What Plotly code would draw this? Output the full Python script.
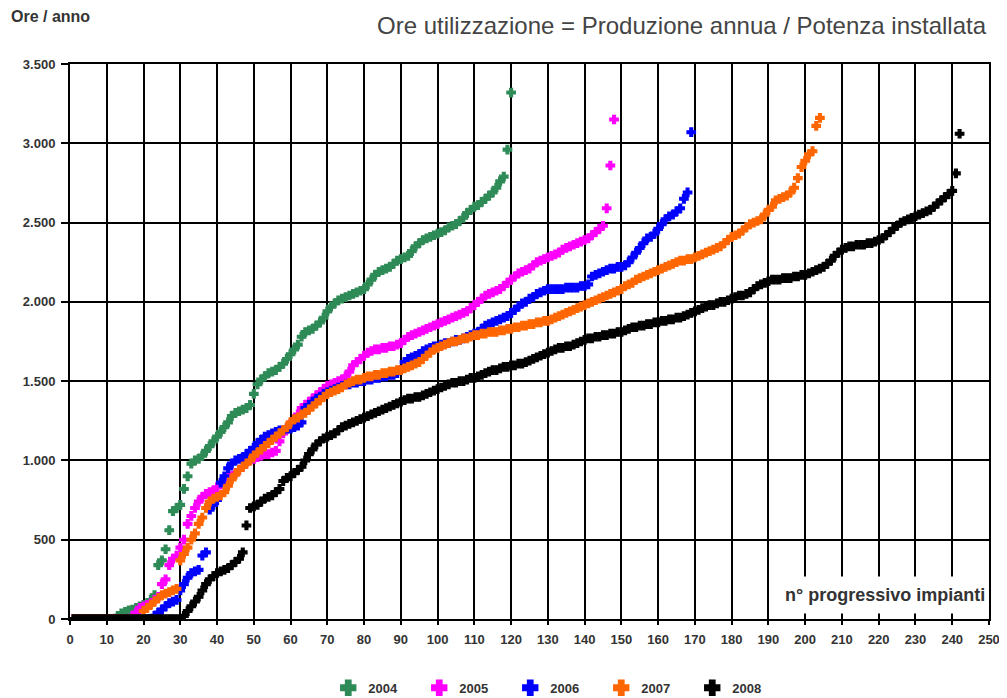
import plotly.graph_objects as go

# Ore di utilizzazione per impianto (ordinate in modo crescente), per anno
ore_2004 = [
    0, 0, 0, 0, 0, 0, 0, 0, 0, 0,
    0, 0, 20, 35, 45, 55, 60, 70, 80, 90,
    100, 120, 150, 340, 370, 440, 560, 680, 700, 720,
    820, 900, 980, 1000, 1010, 1030, 1060, 1090, 1120, 1150,
    1180, 1210, 1240, 1280, 1300, 1310, 1320, 1330, 1350, 1420,
    1480, 1510, 1530, 1550, 1560, 1570, 1590, 1610, 1640, 1670,
    1700, 1730, 1780, 1810, 1820, 1830, 1850, 1870, 1900, 1940,
    1970, 1990, 2010, 2020, 2030, 2040, 2050, 2060, 2070, 2080,
    2110, 2140, 2170, 2190, 2200, 2210, 2220, 2240, 2260, 2270,
    2280, 2290, 2320, 2350, 2370, 2390, 2400, 2410, 2420, 2430,
    2440, 2450, 2470, 2480, 2490, 2510, 2530, 2560, 2580, 2600,
    2610, 2630, 2650, 2670, 2690, 2720, 2760, 2790, 2960, 3320,
]

ore_2005 = [
    0, 0, 0, 0, 0, 0, 0, 0, 0, 0,
    0, 0, 0, 0, 0, 0, 20, 40, 70, 80,
    90, 100, 120, 140, 220, 250, 340, 380, 400, 450,
    500, 600, 650, 700, 740, 770, 790, 800, 810, 830,
    850, 870, 890, 900, 920, 940, 960, 990, 1000, 1010,
    1020, 1030, 1040, 1040, 1050, 1060, 1120, 1170, 1200, 1230,
    1260, 1290, 1330, 1350, 1370, 1390, 1410, 1430, 1450, 1470,
    1480, 1490, 1500, 1510, 1530, 1560, 1600, 1620, 1640, 1660,
    1680, 1690, 1700, 1700, 1710, 1710, 1720, 1720, 1730, 1740,
    1760, 1780, 1790, 1800, 1810, 1820, 1830, 1840, 1850, 1860,
    1870, 1880, 1890, 1900, 1910, 1920, 1930, 1940, 1960, 1980,
    2000, 2020, 2040, 2050, 2060, 2070, 2080, 2100, 2120, 2140,
    2160, 2180, 2190, 2200, 2210, 2230, 2250, 2260, 2270, 2280,
    2290, 2300, 2310, 2330, 2340, 2350, 2360, 2370, 2380, 2390,
    2400, 2420, 2440, 2460, 2480, 2590, 2860, 3150,
]

ore_2006 = [
    0, 0, 0, 0, 0, 0, 0, 0, 0, 0,
    0, 0, 0, 0, 0, 0, 0, 0, 0, 0,
    0, 0, 20, 40, 60, 80, 100, 110, 120, 180,
    220, 260, 290, 300, 310, 400, 420, 690, 720, 750,
    860, 900, 950, 980, 1000, 1010, 1020, 1040, 1060, 1080,
    1110, 1130, 1150, 1160, 1170, 1180, 1190, 1190, 1200, 1200,
    1210, 1220, 1240, 1330, 1350, 1370, 1390, 1400, 1420, 1430,
    1440, 1450, 1460, 1470, 1480, 1480, 1490, 1490, 1500, 1500,
    1510, 1510, 1520, 1520, 1530, 1530, 1540, 1540, 1550, 1570,
    1620, 1640, 1650, 1660, 1670, 1690, 1700, 1710, 1720, 1720,
    1730, 1740, 1740, 1750, 1760, 1760, 1770, 1780, 1790, 1800,
    1810, 1830, 1850, 1860, 1870, 1880, 1890, 1900, 1910, 1930,
    1950, 1970, 1990, 2000, 2020, 2030, 2050, 2060, 2070, 2080,
    2080, 2080, 2080, 2080, 2090, 2090, 2090, 2090, 2100, 2100,
    2110, 2160, 2170, 2180, 2190, 2200, 2210, 2210, 2220, 2220,
    2230, 2250, 2280, 2310, 2340, 2370, 2400, 2410, 2430, 2460,
    2490, 2520, 2540, 2550, 2570, 2590, 2650, 2690, 3070,
]

ore_2007 = [
    0, 0, 0, 0, 0, 0, 0, 0, 0, 0,
    0, 0, 0, 0, 0, 0, 0, 0, 0, 50,
    70, 90, 110, 130, 150, 160, 170, 180, 190, 370,
    410, 450, 500, 540, 600, 640, 700, 740, 760, 770,
    780, 800, 840, 880, 910, 940, 960, 980, 1000, 1030,
    1050, 1070, 1090, 1110, 1130, 1150, 1170, 1190, 1210, 1240,
    1260, 1270, 1290, 1300, 1320, 1340, 1360, 1380, 1400, 1420,
    1430, 1440, 1450, 1460, 1480, 1490, 1500, 1510, 1510, 1520,
    1530, 1530, 1540, 1540, 1550, 1550, 1560, 1560, 1570, 1570,
    1580, 1590, 1600, 1610, 1620, 1640, 1660, 1680, 1700, 1710,
    1720, 1730, 1740, 1750, 1750, 1760, 1770, 1770, 1780, 1790,
    1790, 1800, 1800, 1810, 1810, 1810, 1820, 1820, 1830, 1830,
    1840, 1840, 1850, 1850, 1860, 1860, 1870, 1870, 1880, 1880,
    1890, 1900, 1910, 1920, 1930, 1940, 1950, 1960, 1970, 1980,
    1990, 2000, 2010, 2020, 2030, 2040, 2050, 2060, 2070, 2080,
    2100, 2110, 2120, 2140, 2150, 2160, 2170, 2180, 2190, 2200,
    2210, 2220, 2230, 2240, 2250, 2260, 2260, 2270, 2270, 2280,
    2290, 2300, 2310, 2320, 2330, 2340, 2350, 2370, 2390, 2410,
    2420, 2430, 2450, 2470, 2490, 2500, 2510, 2520, 2550, 2580,
    2600, 2640, 2650, 2660, 2670, 2690, 2720, 2780, 2850, 2890,
    2930, 2950, 3110, 3160,
]

ore_2008 = [
    0, 0, 0, 0, 0, 0, 0, 0, 0, 0,
    0, 0, 0, 0, 0, 0, 0, 0, 0, 0,
    0, 0, 0, 0, 0, 0, 0, 0, 0, 0,
    20, 50, 80, 110, 140, 180, 220, 250, 270, 290,
    300, 310, 320, 340, 360, 380, 420, 590, 700, 710,
    720, 740, 760, 770, 780, 800, 820, 870, 890, 900,
    920, 940, 960, 1000, 1040, 1070, 1100, 1120, 1140, 1150,
    1160, 1170, 1190, 1210, 1220, 1230, 1240, 1250, 1260, 1270,
    1280, 1290, 1300, 1310, 1320, 1330, 1340, 1350, 1360, 1370,
    1380, 1390, 1390, 1400, 1400, 1410, 1420, 1430, 1440, 1450,
    1460, 1470, 1480, 1490, 1490, 1500, 1500, 1510, 1520, 1520,
    1530, 1540, 1550, 1560, 1570, 1570, 1580, 1590, 1590, 1600,
    1600, 1610, 1610, 1620, 1630, 1640, 1650, 1660, 1670, 1680,
    1690, 1700, 1710, 1710, 1720, 1720, 1730, 1740, 1750, 1760,
    1770, 1770, 1780, 1780, 1790, 1790, 1800, 1800, 1810, 1810,
    1820, 1830, 1840, 1840, 1850, 1850, 1860, 1860, 1870, 1870,
    1880, 1880, 1890, 1890, 1900, 1900, 1910, 1920, 1930, 1940,
    1950, 1960, 1970, 1980, 1980, 1990, 2000, 2000, 2010, 2020,
    2030, 2040, 2040, 2050, 2060, 2080, 2100, 2110, 2120, 2130,
    2140, 2140, 2140, 2150, 2150, 2150, 2160, 2160, 2170, 2170,
    2180, 2190, 2200, 2210, 2220, 2240, 2260, 2290, 2310, 2330,
    2340, 2350, 2350, 2360, 2360, 2360, 2370, 2370, 2380, 2390,
    2400, 2420, 2440, 2460, 2480, 2500, 2510, 2520, 2530, 2540,
    2550, 2560, 2570, 2580, 2600, 2620, 2640, 2660, 2680, 2700,
    2810, 3060,
]

anni = ["2004", "2005", "2006", "2007", "2008"]
serie = [ore_2004, ore_2005, ore_2006, ore_2007, ore_2008]
colori = ["#2E8B57", "#FF00FF", "#0000FF", "#FF6600", "#000000"]

fig = go.Figure()
for anno, vals, col in zip(anni, serie, colori):
    fig.add_trace(go.Scatter(
        x=list(range(1, len(vals) + 1)),
        y=vals,
        mode="markers",
        name=anno,
        marker=dict(symbol="cross", size=7, color=col, line=dict(width=1.3, color=col)),
    ))

font_fam = "Liberation Sans, Arial, sans-serif"
tick_font = dict(family=font_fam, size=13, color="#333333", weight="bold")

# The page body has an 8px default margin: figure is 999x690, offset by 8px.
fig.update_layout(
    width=999, height=690,
    margin=dict(l=62, r=18, t=56, b=79, autoexpand=False),
    paper_bgcolor="white", plot_bgcolor="white",
    separators=",.",
    showlegend=True,
    legend=dict(
        orientation="h", x=0.281, xanchor="left", y=-0.124, yanchor="middle",
        font=dict(family=font_fam, size=13, color="#333333", weight="bold"),
        entrywidth=46, entrywidthmode="pixels", itemsizing="constant",
        bgcolor="rgba(0,0,0,0)",
    ),
    xaxis=dict(
        range=[0, 250], tick0=0, dtick=10,
        showgrid=True, gridcolor="black", gridwidth=2,
        ticks="outside", ticklen=4, tickwidth=2, tickcolor="black",
        tickfont=tick_font, ticklabelstandoff=3,
        showline=True, linecolor="black", linewidth=2, mirror=True,
        zeroline=False, fixedrange=True, automargin=False,
    ),
    yaxis=dict(
        range=[0, 3500], tick0=0, dtick=500, tickformat=",d",
        showgrid=True, gridcolor="black", gridwidth=2,
        ticks="outside", ticklen=7, tickwidth=2, tickcolor="black",
        tickfont=tick_font, ticklabelstandoff=3,
        showline=True, linecolor="black", linewidth=2, mirror=True,
        zeroline=False, fixedrange=True, automargin=False,
    ),
    annotations=[
        dict(text="Ore utilizzazione = Produzione annua / Potenza installata",
             xref="paper", yref="paper", x=1.0, y=1.0685,
             xanchor="right", yanchor="middle", showarrow=False,
             font=dict(family=font_fam, size=24, color="#444444")),
        dict(text="Ore / anno",
             xref="paper", yref="paper", x=-0.066, y=1.085,
             xanchor="left", yanchor="middle", showarrow=False,
             font=dict(family=font_fam, size=16, color="#333333", weight="bold")),
        dict(text="n° progressivo impianti",
             xref="paper", yref="paper", x=0.9985, y=0.0433,
             xanchor="right", yanchor="middle", showarrow=False,
             bgcolor="white", borderpad=2, height=32,
             font=dict(family=font_fam, size=18, color="#333333", weight="bold")),
    ],
)

fig.write_html("out.html")
